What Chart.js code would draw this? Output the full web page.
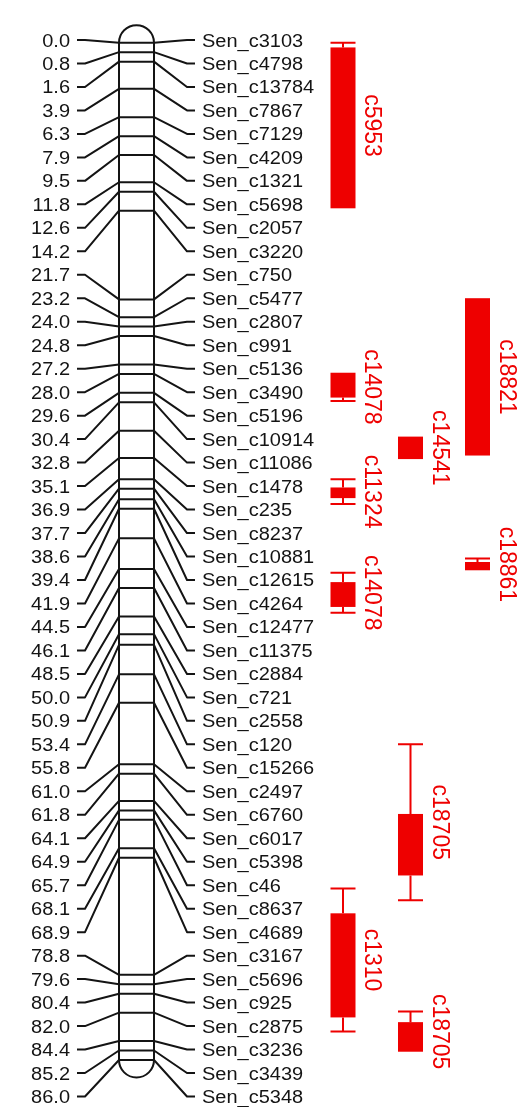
<!DOCTYPE html>
<html>
<head>
<meta charset="utf-8">
<script src="https://cdn.jsdelivr.net/npm/chart.js@4/dist/chart.umd.min.js"></script>
<style>
  html, body { margin: 0; padding: 0; background: #fff; }
  #wrap { width: 524px; height: 1107px; position: relative; }
</style>
</head>
<body>
<div id="wrap"><canvas id="chart"></canvas></div>
<script>
// Map positions (cM), one per marker, top to bottom
const positions = [0.0, 0.8, 1.6, 3.9, 6.3, 7.9, 9.5, 11.8, 12.6, 14.2, 21.7, 23.2, 24.0, 24.8, 27.2,
  28.0, 29.6, 30.4, 32.8, 35.1, 36.9, 37.7, 38.6, 39.4, 41.9, 44.5, 46.1, 48.5, 50.0, 50.9, 53.4,
  55.8, 61.0, 61.8, 64.1, 64.9, 65.7, 68.1, 68.9, 78.8, 79.6, 80.4, 82.0, 84.4, 85.2, 86.0];

// Marker names
const markers = ["Sen_c3103", "Sen_c4798", "Sen_c13784", "Sen_c7867", "Sen_c7129", "Sen_c4209",
  "Sen_c1321", "Sen_c5698", "Sen_c2057", "Sen_c3220", "Sen_c750", "Sen_c5477", "Sen_c2807",
  "Sen_c991", "Sen_c5136", "Sen_c3490", "Sen_c5196", "Sen_c10914", "Sen_c11086", "Sen_c1478",
  "Sen_c235", "Sen_c8237", "Sen_c10881", "Sen_c12615", "Sen_c4264", "Sen_c12477", "Sen_c11375",
  "Sen_c2884", "Sen_c721", "Sen_c2558", "Sen_c120", "Sen_c15266", "Sen_c2497", "Sen_c6760",
  "Sen_c6017", "Sen_c5398", "Sen_c46", "Sen_c8637", "Sen_c4689", "Sen_c3167", "Sen_c5696",
  "Sen_c925", "Sen_c2875", "Sen_c3236", "Sen_c3439", "Sen_c5348"];

// QTL intervals (cM): outer = whisker ends, inner = filled box
const qtlNames = ["c5953", "c18821", "c14078", "c14541", "c11324", "c18861", "c14078", "c18705", "c1310", "c18705"];
const qtlColumn = [0, 2, 0, 1, 0, 2, 0, 1, 0, 1];
const qtlOuterLo = [0.0, 21.6, 27.9, 33.3, 36.9, 43.6, 44.8, 59.3, 71.5, 81.9];
const qtlInnerLo = [0.4, 21.6, 27.9, 33.3, 37.6, 43.9, 45.6, 65.2, 73.6, 82.8];
const qtlInnerHi = [14.0, 34.9, 30.0, 35.2, 38.5, 44.6, 47.7, 70.4, 82.4, 85.3];
const qtlOuterHi = [14.0, 34.9, 30.3, 35.2, 39.0, 44.6, 48.2, 72.5, 83.6, 85.3];

// Layout (pixels)
const H = 1107;
const chromLeft = 119, chromRight = 154;
const leftTextX = 70, leftTickX = 77, leftBendX = 85;
const rightBendX = 187, rightTickX = 195, rightTextX = 202;
const columnX = [343, 410.5, 477.5];
const barWidth = 25;
const ink = "#141414";
const red = "#ee0000";
const textFont = '18px "Liberation Sans", Arial, sans-serif';
const qtlFont = '23px "Liberation Sans", Arial, sans-serif';

// scale range so value v0 lands on pixel p0 and v1 on pixel p1
function rangeFor(v0, p0, v1, p1) {
  const per = (p1 - p0) / (v1 - v0);
  return { min: v0 - p0 / per, max: v0 + (H - p0) / per };
}
const cmRange = rangeFor(0, 42.7, 86, 1060);
const rankRange = rangeFor(0, 40, 45, 1096.5);

// marker lines inside the chromosome
const markerLines = [];
positions.forEach(p => {
  markerLines.push({ x: chromLeft, y: p }, { x: chromRight, y: p }, { x: chromRight, y: null });
});

function stretchedText(ctx, text, x, y, align) {
  ctx.save();
  ctx.translate(x, y);
  ctx.scale(1.11, 1);
  ctx.textAlign = align;
  ctx.fillText(text, 0, 0);
  ctx.restore();
}

const mapPlugin = {
  id: "linkageMap",
  beforeDatasetsDraw(chart) {
    const ctx = chart.ctx;
    const cm = chart.scales.cm;
    const top = cm.getPixelForValue(positions[0]);
    const bottom = cm.getPixelForValue(positions[positions.length - 1]);
    const r = (chromRight - chromLeft) / 2;
    const cx = chromLeft + r;
    ctx.save();
    ctx.beginPath();
    ctx.arc(cx, top, r, Math.PI, 0);
    ctx.lineTo(chromRight, bottom);
    ctx.arc(cx, bottom, r, 0, Math.PI);
    ctx.closePath();
    ctx.fillStyle = "#fff";
    ctx.fill();
    ctx.lineWidth = 2;
    ctx.strokeStyle = ink;
    ctx.stroke();
    ctx.restore();
  },
  afterDatasetsDraw(chart) {
    const ctx = chart.ctx;
    const cm = chart.scales.cm;
    const rank = chart.scales.rank;
    ctx.save();
    ctx.strokeStyle = ink;
    ctx.lineWidth = 2;
    ctx.lineJoin = "round";
    ctx.fillStyle = ink;
    ctx.font = textFont;
    ctx.textBaseline = "alphabetic";
    positions.forEach((p, i) => {
      const ly = rank.getPixelForValue(i);
      const my = cm.getPixelForValue(p);
      ctx.beginPath();
      ctx.moveTo(leftTickX, ly);
      ctx.lineTo(leftBendX, ly);
      ctx.lineTo(chromLeft, my);
      ctx.stroke();
      ctx.beginPath();
      ctx.moveTo(chromRight, my);
      ctx.lineTo(rightBendX, ly);
      ctx.lineTo(rightTickX, ly);
      ctx.stroke();
      stretchedText(ctx, p.toFixed(1), leftTextX, ly + 6.5, "right");
      stretchedText(ctx, markers[i], rightTextX, ly + 6.5, "left");
    });

    // QTL boxes and whiskers
    ctx.strokeStyle = red;
    ctx.fillStyle = red;
    ctx.lineWidth = 2;
    qtlNames.forEach((name, i) => {
      const x = columnX[qtlColumn[i]];
      const x0 = x - barWidth / 2;
      const yOL = cm.getPixelForValue(qtlOuterLo[i]);
      const yIL = cm.getPixelForValue(qtlInnerLo[i]);
      const yIH = cm.getPixelForValue(qtlInnerHi[i]);
      const yOH = cm.getPixelForValue(qtlOuterHi[i]);
      ctx.fillRect(x0, yIL, barWidth, yIH - yIL);
      if (yIL - yOL > 0.5) {
        ctx.beginPath();
        ctx.moveTo(x, yOL); ctx.lineTo(x, yIL);
        ctx.moveTo(x0, yOL); ctx.lineTo(x0 + barWidth, yOL);
        ctx.stroke();
      }
      if (yOH - yIH > 0.5) {
        ctx.beginPath();
        ctx.moveTo(x, yIH); ctx.lineTo(x, yOH);
        ctx.moveTo(x0, yOH); ctx.lineTo(x0 + barWidth, yOH);
        ctx.stroke();
      }
      ctx.save();
      ctx.translate(x0 + barWidth + 16, (yOL + yOH) / 2);
      ctx.rotate(Math.PI / 2);
      ctx.font = qtlFont;
      ctx.textAlign = "center";
      ctx.textBaseline = "middle";
      ctx.fillText(name, 0, 0);
      ctx.restore();
    });
    ctx.restore();
  }
};

new Chart(document.getElementById("chart"), {
  type: "line",
  data: {
    datasets: [{
      label: "markers",
      data: markerLines,
      yAxisID: "cm",
      borderColor: ink,
      borderWidth: 2,
      pointRadius: 0,
      spanGaps: false,
      fill: false
    }]
  },
  options: {
    responsive: true,
    maintainAspectRatio: false,
    animation: false,
    layout: { padding: 0 },
    plugins: { legend: { display: false }, tooltip: { enabled: false } },
    scales: {
      x: { type: "linear", min: 0, max: 524, display: false },
      cm: { type: "linear", position: "left", reverse: true, min: cmRange.min, max: cmRange.max, display: false },
      rank: { type: "linear", position: "right", reverse: true, min: rankRange.min, max: rankRange.max, display: false }
    }
  },
  plugins: [mapPlugin]
});
</script>
</body>
</html>
